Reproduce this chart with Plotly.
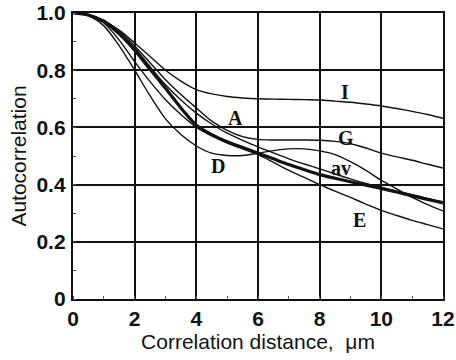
import plotly.graph_objects as go

# Correlation distance (um) and autocorrelation for each sample
x_fine = [0, 0.5, 1, 1.5, 2, 2.5, 3, 3.5, 4, 4.5, 5, 5.5, 6, 6.5, 7, 7.5, 8, 8.5, 9, 9.5, 10, 10.5, 11, 11.5, 12]

curve_I = [1.0, 0.993, 0.972, 0.94, 0.895, 0.848, 0.80, 0.762, 0.732, 0.717, 0.708, 0.703, 0.700, 0.699, 0.698, 0.697, 0.696, 0.692, 0.688, 0.682, 0.675, 0.666, 0.656, 0.645, 0.632]
curve_G = [1.0, 0.994, 0.975, 0.936, 0.885, 0.826, 0.767, 0.715, 0.668, 0.622, 0.590, 0.568, 0.558, 0.556, 0.556, 0.556, 0.555, 0.551, 0.543, 0.528, 0.510, 0.497, 0.485, 0.471, 0.458]
curve_A = [1.0, 0.993, 0.970, 0.93, 0.878, 0.812, 0.749, 0.696, 0.650, 0.612, 0.580, 0.555, 0.532, 0.511, 0.490, 0.472, 0.455, 0.437, 0.420, 0.404, 0.390, 0.377, 0.365, 0.352, 0.340]
curve_av = [1.0, 0.993, 0.970, 0.927, 0.870, 0.803, 0.737, 0.668, 0.608, 0.575, 0.550, 0.530, 0.510, 0.490, 0.470, 0.452, 0.435, 0.422, 0.410, 0.398, 0.387, 0.374, 0.361, 0.348, 0.336]
curve_E = [1.0, 0.992, 0.965, 0.905, 0.830, 0.760, 0.697, 0.645, 0.600, 0.570, 0.545, 0.525, 0.505, 0.478, 0.450, 0.425, 0.400, 0.377, 0.355, 0.332, 0.310, 0.292, 0.275, 0.260, 0.245]
curve_D = [1.0, 0.990, 0.955, 0.885, 0.800, 0.710, 0.630, 0.575, 0.535, 0.510, 0.502, 0.502, 0.510, 0.519, 0.525, 0.525, 0.518, 0.505, 0.480, 0.450, 0.415, 0.385, 0.355, 0.330, 0.308]

series = [
    ("I", curve_I, 1.4),
    ("G", curve_G, 1.4),
    ("A", curve_A, 1.4),
    ("E", curve_E, 1.4),
    ("D", curve_D, 1.4),
    ("av", curve_av, 3.2),
]

# Curve label text and anchor positions (distance, autocorrelation)
label_text = ["I", "G", "av", "A", "D", "E"]
label_x = [8.82, 8.87, 8.7, 5.26, 4.7, 9.3]
label_y = [0.723, 0.563, 0.458, 0.634, 0.466, 0.277]

x_ticks = [0, 2, 4, 6, 8, 10, 12]
x_tick_text = ["0", "2", "4", "6", "8", "10", "12"]
y_ticks = [0, 0.2, 0.4, 0.6, 0.8, 1.0]
y_tick_text = ["0", "0.2", "0.4", "0.6", "0.8", "1.0"]

INK = "#111111"

fig = go.Figure()
for name, ys, w in series:
    fig.add_trace(go.Scatter(
        x=x_fine, y=ys, mode="lines", name=name,
        line=dict(color=INK, width=w, shape="spline", smoothing=0.8),
        showlegend=False, hoverinfo="skip",
    ))

for t, lx, ly in zip(label_text, label_x, label_y):
    fig.add_annotation(
        x=lx, y=ly, text="<b>" + t + "</b>", showarrow=False, xref="x", yref="y",
        font=dict(family="Liberation Serif", size=20, color=INK),
        xanchor="center", yanchor="middle",
    )

axis_common = dict(
    showline=True, linecolor=INK, linewidth=2.4, mirror=True,
    showgrid=True, gridcolor=INK, gridwidth=1.8,
    zeroline=False, automargin=False,
    ticks="", ticklen=0,
    tickfont=dict(family="Liberation Sans", size=21, color=INK, weight="bold"),
)

fig.update_xaxes(
    range=[0, 12], tickvals=x_ticks, ticktext=x_tick_text,
    ticklabelstandoff=0,
    minor=dict(dtick=1, ticks="inside", ticklen=3, tickcolor="#555555", tickwidth=1, showgrid=False),
    title=dict(text="Correlation distance,  \u03bcm", standoff=2,
               font=dict(family="Liberation Sans", size=21, color=INK)),
    **axis_common,
)
fig.update_yaxes(
    range=[0, 1], tickvals=y_ticks, ticktext=y_tick_text,
    ticklabelstandoff=1,
    minor=dict(dtick=0.1, ticks="inside", ticklen=3, tickcolor="#555555", tickwidth=1, showgrid=False),
    title=dict(text="Autocorrelation", standoff=4,
               font=dict(family="Liberation Sans", size=21, color=INK)),
    **axis_common,
)

fig.update_layout(
    width=456, height=360,
    margin=dict(l=73, r=13, t=13, b=61, autoexpand=False),
    paper_bgcolor="white", plot_bgcolor="white",
)

fig.write_html("out.html")
